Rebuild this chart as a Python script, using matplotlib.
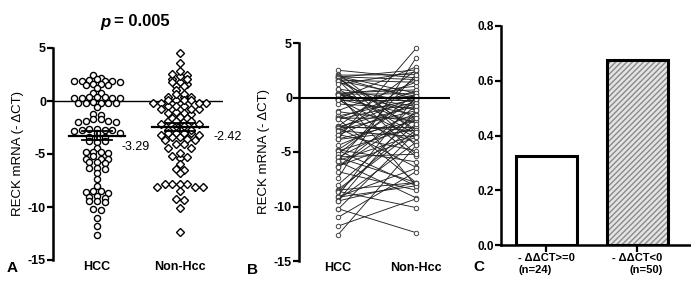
import numpy as np
import matplotlib
matplotlib.use("Agg")
import matplotlib.pyplot as plt

plt.rcParams['font.family'] = ['Liberation Sans', 'DejaVu Sans']

# ---------------- data ----------------
groups = ["HCC", "Non-Hcc"]
# -dCT values, in patient order (pairs share the same index)
hcc = [2.5, 2.2, 2.05, 1.95, 1.9, 1.9, 1.85, 1.85, 1.8,
       1.6, 1.6, 1.55, 1.5, 1.2, 0.8, 0.8,
       0.4, 0.35, 0.35, 0.3, 0.3, 0.3, 0.25,
       -0.1, -0.15, -0.15, -0.15, -0.2, -0.2, -0.6, -1.2, -1.3,
       -1.7, -1.7, -1.9, -1.9, -1.95, -2.0,
       -2.65, -2.65, -2.7, -2.7, -2.75, -2.8, -3.0, -3.05,
       -3.4, -3.4, -3.45, -3.8, -3.8, -3.85, -4.4,
       -4.8, -4.8, -4.85, -4.9, -5.2, -5.45, -5.5, -5.5,
       -5.8, -5.8, -5.85, -6.4, -6.3, -6.35, -6.8, -7.4, -8.0,
       -8.5, -8.45, -8.6, -8.65, -9.1, -9.0, -9.15,
       -9.4, -9.45, -9.5, -10.2, -10.25, -11.0, -11.8, -12.6]
non_hcc = [1.8, -3.2, 2.1, 0.4, -4.4, 1.65, -0.15, 2.53, -3.0,
           1.4, -5.25, 0.1, -1.9, 2.34, -0.47, -3.4,
           0.7, -8.1, -1.15, 1.03, -2.4, 0.35, -0.8,
           -5.4, 0.1, -1.6, 2.81, -0.2, -3.65, -1.0, 1.4, -2.2,
           -0.15, -4.1, 0.65, -1.88, -7.8, -0.45,
           2.5, -3.05, -0.78, -2.7, -6.4, 0.05, -1.2, -3.6,
           1.8, -4.9, -0.5, -2.15, 4.5, -3.0, -1.47,
           -5.9, -0.15, -8.1, -2.7, 0.4, -5.2, -1.85, -7.8,
           -3.4, 2.1, -9.2, -1.6, -3.65, -0.75, -8.5, 3.63, -1.9,
           -7.8, -3.0, -10.1, -2.4, -6.5, 0.1, -8.1,
           -4.1, -1.15, -7.8, -12.4, -3.2, -6.8, -9.3, -4.4]
p_text = "= 0.005"
c_labels = ["- \u0394\u0394CT>=0\n(n=24)", "- \u0394\u0394CT<0\n(n=50)"]
c_counts = [24, 50]

# ---------------- helpers ----------------
def row_layout(vals, h, sp_px, xpx):
    """GraphPad-like scatter: group nearby values into rows, spread each row symmetrically."""
    vals = np.asarray(vals, float)
    order = np.argsort(-vals, kind="stable")
    rows, cur, top = [], [], None
    for i in order:
        if cur and vals[top] - vals[i] > h:
            rows.append(cur)
            cur = []
        if not cur:
            top = i
        cur.append(i)
    if cur:
        rows.append(cur)
    offs = np.zeros(len(vals))
    for row in rows:
        n = len(row)
        slots = (np.arange(n) - (n - 1) / 2.0) * sp_px
        slots = sorted(slots, key=lambda s: (abs(s), s))
        for k, idx in enumerate(row):
            offs[idx] = slots[k] / xpx
    return offs

W, H = 691, 295
fig = plt.figure(figsize=(W / 100, H / 100), dpi=100)

def fax(l, t, r, b):
    return fig.add_axes([l / W, 1 - b / H, (r - l) / W, (b - t) / H])

tickfont = dict(fontsize=9, fontweight='bold')

# ---------------- Panel A ----------------
axA = fax(53, 48, 223, 260)
axA.set_ylim(-15, 5)
axA.set_xlim(-0.53, 1.52)
xpx = 170 / 2.05
for gi, (vals, mk, ms) in enumerate([(hcc, 'o', 4.4), (non_hcc, 'D', 3.9)]):
    offs = row_layout(vals, 0.36, 7.6, xpx)
    axA.plot(gi + offs, vals, ls='none', marker=mk, ms=ms, mfc='white',
             mec='black', mew=1.0, clip_on=False, zorder=3)
    m = np.mean(vals)
    sem = np.std(vals, ddof=1) / np.sqrt(len(vals))
    axA.plot([gi - 0.34, gi + 0.34], [m, m], color='black', lw=1.6, zorder=4)
    axA.plot([gi - 0.18, gi + 0.18], [m + sem, m + sem], color='black', lw=1.3, zorder=4)
    axA.plot([gi - 0.18, gi + 0.18], [m - sem, m - sem], color='black', lw=1.3, zorder=4)
    axA.plot([gi, gi], [m - sem, m + sem], color='black', lw=1.3, zorder=4)
    dx, dy = (0.29, -1.05) if gi == 0 else (0.40, -0.95)
    axA.text(gi + dx, m + dy, f"{m:.2f}", fontsize=9, va='center', ha='left')
axA.axhline(0, color='black', lw=1.0, zorder=2)
for s in ['top', 'right', 'bottom']:
    axA.spines[s].set_visible(False)
axA.spines['left'].set_linewidth(1.8)
axA.set_yticks([5, 0, -5, -10, -15])
axA.set_yticklabels(['5', '0', '-5', '-10', '-15'], **tickfont)
axA.tick_params(axis='y', width=1.6, length=4, pad=1)
axA.set_xticks([0, 1])
axA.set_xticklabels(groups, **tickfont)
axA.tick_params(axis='x', length=0, pad=1)
axA.set_ylabel("RECK mRNA (- \u0394CT)", fontsize=9.5, labelpad=3)
fig.text(110 / W, 1 - 22 / H, "p", fontsize=12, fontweight='bold', style='italic',
         ha='right', va='center')
fig.text(114 / W, 1 - 22 / H, p_text, fontsize=12, fontweight='bold', ha='left', va='center')
fig.text(12 / W, 1 - 268 / H, "A", fontsize=11, fontweight='bold', ha='center', va='center')

# ---------------- Panel B ----------------
axB = fax(299, 43, 450, 261)
axB.set_ylim(-15, 5)
axB.set_xlim(-0.5, 1.436)
for a, b in zip(hcc, non_hcc):
    axB.plot([0, 1], [a, b], color='#222222', lw=0.65, marker='o', ms=3.2,
             mfc='white', mec='#444444', mew=0.7, zorder=3)
axB.axhline(0, color='black', lw=1.5, zorder=4)
for s in ['top', 'right', 'bottom']:
    axB.spines[s].set_visible(False)
axB.spines['left'].set_linewidth(1.8)
axB.set_yticks([5, 0, -5, -10, -15])
axB.set_yticklabels(['5', '0', '-5', '-10', '-15'], **tickfont)
axB.tick_params(axis='y', width=1.6, length=4, pad=1)
axB.set_xticks([0, 1])
axB.set_xticklabels(groups, **tickfont)
axB.tick_params(axis='x', length=0, pad=1)
axB.set_ylabel("RECK mRNA (- \u0394CT)", fontsize=9.5, labelpad=3)
fig.text(253 / W, 1 - 270 / H, "B", fontsize=11, fontweight='bold', ha='center', va='center')

# ---------------- Panel C ----------------
axC = fax(501, 26, 690, 245)
axC.set_ylim(0, 0.8)
axC.set_xlim(-0.5, 1.577)
props = np.array(c_counts) / np.sum(c_counts)
axC.bar([0], [props[0]], width=0.67, facecolor='white', edgecolor='black', lw=2.2, zorder=3)
axC.bar([1], [props[1]], width=0.67, facecolor='#e4e4e4', edgecolor='#8a8a8a',
        hatch='//////', lw=0, zorder=2)
axC.bar([1], [props[1]], width=0.67, facecolor='none', edgecolor='black', lw=2.2, zorder=3)
for s in ['top', 'right']:
    axC.spines[s].set_visible(False)
axC.spines['left'].set_linewidth(1.8)
axC.spines['bottom'].set_linewidth(1.8)
axC.set_yticks([0, 0.2, 0.4, 0.6, 0.8])
axC.set_yticklabels([f"{v:.1f}" for v in [0, 0.2, 0.4, 0.6, 0.8]], fontsize=8.5, fontweight='bold')
axC.tick_params(axis='y', width=1.6, length=4, pad=1)
axC.set_xticks([0, 1])
labs = axC.set_xticklabels(c_labels, fontsize=8, fontweight='bold')
labs[0].set_multialignment('left')
labs[1].set_multialignment('right')
axC.tick_params(axis='x', width=1.6, length=5, pad=1)
fig.text(479 / W, 1 - 267 / H, "C", fontsize=11, fontweight='bold', ha='center', va='center')

fig.savefig("out.png", dpi=100)
